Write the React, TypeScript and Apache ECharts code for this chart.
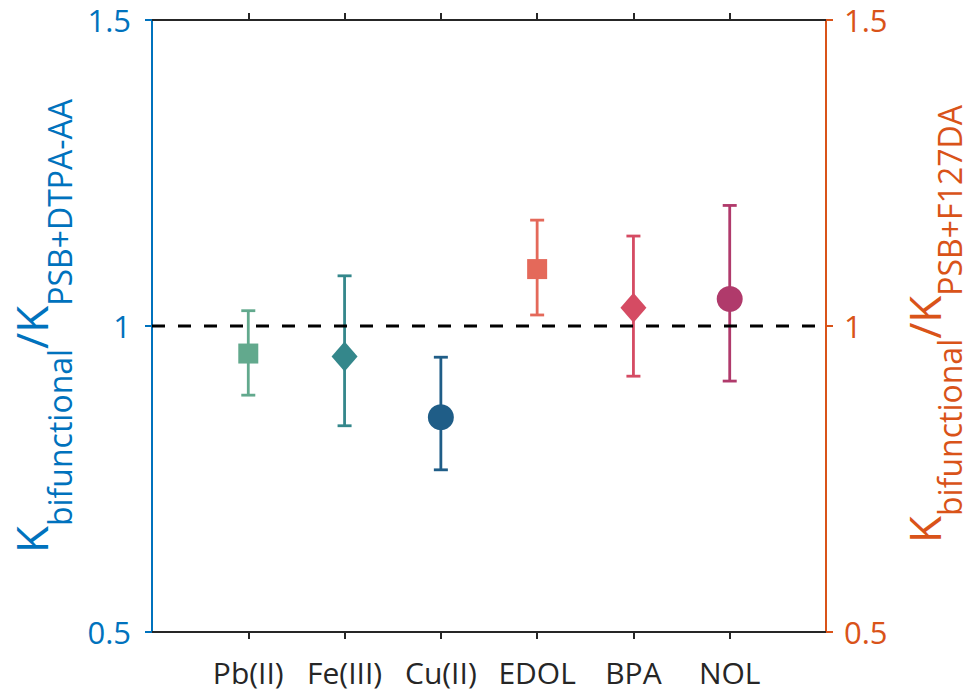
import React, { useEffect, useRef } from 'react';
import * as echarts from 'echarts';

const categories = ['Pb(II)', 'Fe(III)', 'Cu(II)', 'EDOL', 'BPA', 'NOL'];
const positions = [1, 2, 3, 4, 5, 6];
const ratioValues = [0.955, 0.95, 0.851, 1.093, 1.03, 1.044];
const lowerValues = [0.887, 0.837, 0.765, 1.018, 0.918, 0.91];
const upperValues = [1.025, 1.082, 0.949, 1.173, 1.147, 1.197];
const markerShapes = ['rect', 'diamond', 'circle', 'rect', 'diamond', 'circle'];
const markerColors = ['#62A98D', '#34878B', '#1F5D87', '#E4695A', '#D54B63', '#B03A6B'];
const yAxisSide = [0, 0, 0, 1, 1, 1];
const referenceLine = [[0, 1], [7, 1]];
const leftLabelParts: [string, string][] = [['K', 'main'], ['bifunctional', 'sub'], ['/K', 'main'], ['PSB+DTPA-AA', 'sub']];
const rightLabelParts: [string, string][] = [['K', 'main'], ['bifunctional', 'sub'], ['/K', 'main'], ['PSB+F127DA', 'sub']];

const FONT = '"Open Sans", "Noto Sans", sans-serif';
const BLUE = '#0072BD';
const ORANGE = '#D95319';
const DARK = '#262626';

function buildLabel(parts: [string, string][], baselineX: number, centerY: number, color: string, subShift: number) {
  const mainSize = 44;
  const subSize = 32;
  const ctx = document.createElement('canvas').getContext('2d') as CanvasRenderingContext2D;
  const widths = parts.map(([t, k]) => {
    ctx.font = `${k === 'main' ? mainSize : subSize}px ${FONT}`;
    return ctx.measureText(t).width;
  });
  const total = widths.reduce((a, b) => a + b, 0);
  let cur = -total / 2;
  const children = parts.map(([t, k], i) => {
    const size = k === 'main' ? mainSize : subSize;
    const base = k === 'main' ? 0 : subShift;
    const el = {
      type: 'text',
      x: cur,
      y: base - 0.388 * size,
      style: {
        text: t,
        fontSize: size,
        fontFamily: FONT,
        fill: color,
        align: 'left',
        verticalAlign: 'middle',
      },
    };
    cur += widths[i];
    return el;
  });
  return { type: 'group', x: baselineX, y: centerY, rotation: Math.PI / 2, children };
}

export default function App() {
  const ref = useRef<HTMLDivElement>(null);
  useEffect(() => {
    if (!ref.current) return;
    const chart = echarts.init(ref.current, null, { renderer: 'svg' });
    const xAxisBase = {
      type: 'value',
      min: 0,
      max: 7,
      interval: 1,
      splitLine: { show: false },
      axisLine: { show: true, onZero: false, lineStyle: { color: DARK, width: 2 } },
      axisTick: { show: true, inside: false, length: 7, customValues: positions, lineStyle: { color: DARK, width: 2 } },
    };
    const yAxisBase = (color: string, pos: string) => ({
      type: 'value',
      position: pos,
      min: 0.5,
      max: 1.5,
      interval: 0.5,
      splitLine: { show: false },
      axisLine: { show: true, onZero: false, lineStyle: { color, width: 2 } },
      axisTick: { show: true, inside: false, length: 7, lineStyle: { color, width: 2 } },
      axisLabel: { color, fontSize: 31, fontFamily: FONT, margin: pos === 'left' ? 21 : 18 },
    });

    const series: any[] = [];
    series.push({
      type: 'line',
      data: referenceLine,
      symbol: 'none',
      z: 3,
      silent: true,
      lineStyle: { color: '#000000', width: 3, type: [13, 13] },
    });
    positions.forEach((p, i) => {
      const color = markerColors[i];
      series.push({
        type: 'custom',
        yAxisIndex: yAxisSide[i],
        z: 2,
        clip: false,
        encode: { x: 0, y: [1, 2] },
        data: [[p, lowerValues[i], upperValues[i]]],
        renderItem: (params: any, api: any) => {
          const x = api.value(0);
          const lo = api.coord([x, api.value(1)]);
          const hi = api.coord([x, api.value(2)]);
          const cap = 7;
          const style = { stroke: color, lineWidth: 2.8, fill: 'none' };
          return {
            type: 'group',
            children: [
              { type: 'line', shape: { x1: lo[0], y1: lo[1], x2: hi[0], y2: hi[1] }, style },
              { type: 'line', shape: { x1: lo[0] - cap, y1: lo[1], x2: lo[0] + cap, y2: lo[1] }, style },
              { type: 'line', shape: { x1: hi[0] - cap, y1: hi[1], x2: hi[0] + cap, y2: hi[1] }, style },
            ],
          };
        },
      });
      const shape = markerShapes[i];
      series.push({
        type: 'scatter',
        yAxisIndex: yAxisSide[i],
        z: 4,
        symbol: shape,
        symbolSize: shape === 'rect' ? 20 : shape === 'diamond' ? [26, 30] : 26,
        itemStyle: { color, opacity: 1 },
        data: [[p, ratioValues[i]]],
      });
    });

    chart.setOption({
      animation: false,
      backgroundColor: '#ffffff',
      grid: { left: 152, right: 145, top: 20, bottom: 64, containLabel: false, outerBoundsMode: 'none' },
      xAxis: [
        {
          ...xAxisBase,
          position: 'bottom',
          axisLabel: {
            show: true,
            customValues: positions,
            formatter: (v: number) => categories[Math.round(v) - 1] ?? '',
            color: DARK,
            fontSize: 30,
            fontFamily: FONT,
            margin: 25,
          },
        },
        {
          ...xAxisBase,
          position: 'top',
          axisLabel: { show: false },
        },
      ],
      yAxis: [yAxisBase(BLUE, 'left'), yAxisBase(ORANGE, 'right')],
      series,
      graphic: [
        buildLabel(leftLabelParts, 48, 326, BLUE, 24),
        buildLabel(rightLabelParts, 941, 324, ORANGE, 21),
      ],
    });
    return () => chart.dispose();
  }, []);
  return <div ref={ref} style={{ position: 'absolute', left: 0, top: 0, width: 971, height: 696 }} />;
}
